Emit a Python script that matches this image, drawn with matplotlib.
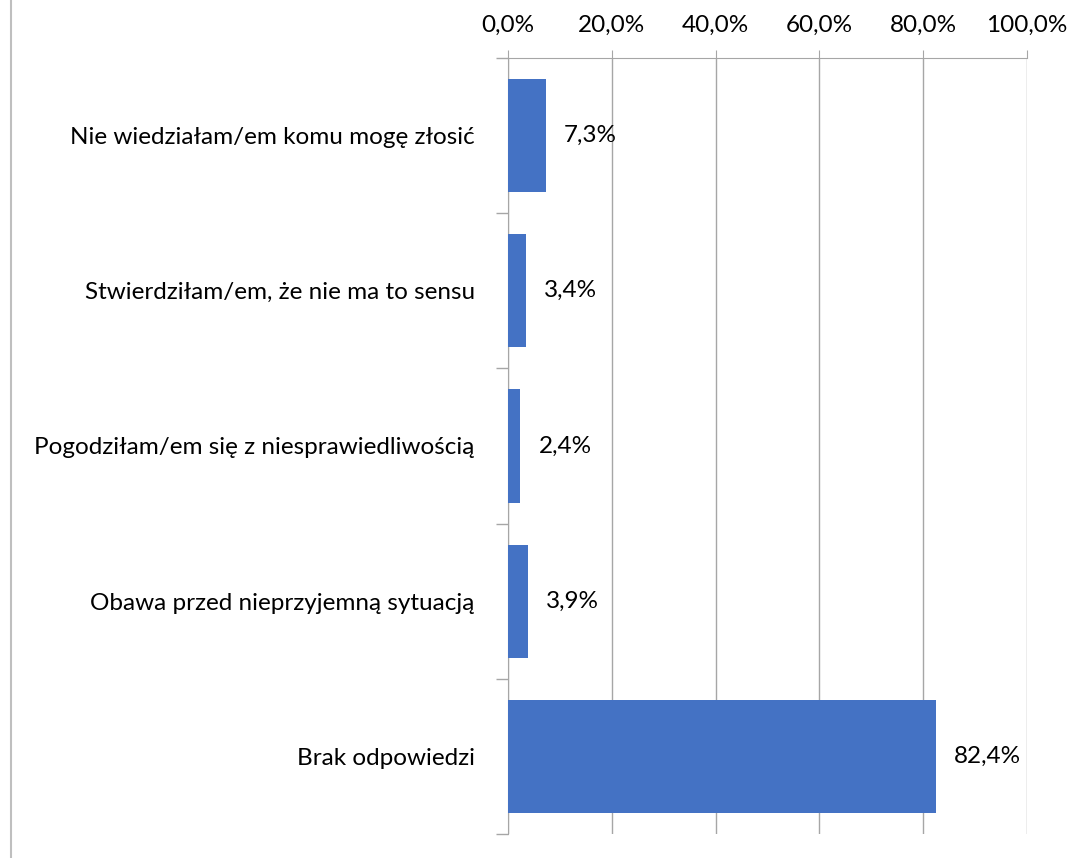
import matplotlib
matplotlib.use("Agg")
import matplotlib.pyplot as plt
from matplotlib.lines import Line2D

categories = ["Nie wiedziałam/em komu mogę złosić",
              "Stwierdziłam/em, że nie ma to sensu",
              "Pogodziłam/em się z niesprawiedliwością",
              "Obawa przed nieprzyjemną sytuacją",
              "Brak odpowiedzi"]
values = [7.3, 3.4, 2.4, 3.9, 82.4]
xticks = [0, 20, 40, 60, 80, 100]

BLUE = "#4472C4"
GRID = "#A6A6A6"
FS = 17.5
plt.rcParams.update({"font.family": ["Lato", "DejaVu Sans"], "font.size": FS})

fig = plt.figure(figsize=(10.88, 8.58), dpi=100)
ax = fig.add_axes([508 / 1088, 1 - 834 / 858, (1027 - 508) / 1088, (834 - 58) / 858])

ys = list(range(len(categories)))
ax.barh(ys, values, height=0.73, color=BLUE, zorder=3)
for y, v in zip(ys, values):
    ax.annotate(f"{v:.1f}%".replace(".", ","), (v, y), textcoords="offset points",
                xytext=(13, 0), va="center", ha="left", fontsize=FS, color="#000")

ax.set_ylim(len(categories) - 0.5, -0.5)
ax.set_xlim(0, 100)
ax.xaxis.tick_top()
ax.set_xticks(xticks)
ax.set_xticklabels([f"{t:.1f}%".replace(".", ",") for t in xticks])
ax.tick_params(axis="x", length=6, color=GRID, pad=10, labelsize=FS)
ax.grid(axis="x", color=GRID, lw=1, zorder=0)

ax.set_yticks(ys)
ax.set_yticklabels(categories)
ax.tick_params(axis="y", which="major", length=0, pad=24, labelsize=FS)
ax.set_yticks([y + 0.5 for y in ys[:-1]] + [-0.5, len(ys) - 0.5], minor=True)
ax.tick_params(axis="y", which="minor", length=9, color=GRID, width=1)

for s in ["right", "bottom"]:
    ax.spines[s].set_visible(False)
ax.spines["top"].set_color(GRID)
ax.spines["left"].set_color(GRID)

fig.add_artist(Line2D([11 / 1088, 11 / 1088], [0, 1], color="#BFBFBF", lw=1.5))

fig.savefig("out.png", dpi=100)
